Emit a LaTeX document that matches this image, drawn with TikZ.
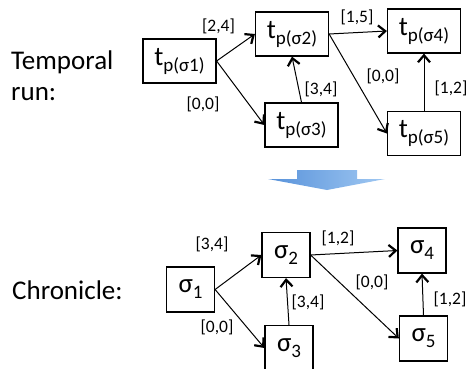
\documentclass[tikz,border=0pt]{standalone}
\usepackage{fontspec}
\setmainfont{Carlito}
\usetikzlibrary{arrows.meta}
\newcommand\tp[1]{t\raisebox{-6pt}{\fontsize{19}{19}\selectfont p(σ#1)}}
\newcommand\sg[1]{σ\raisebox{-6pt}{\fontsize{19}{19}\selectfont #1}}
\begin{document}
\begin{tikzpicture}[x=1pt,y=-1pt,
    tbox/.style={draw,line width=1.2pt,minimum width=73pt,minimum height=44pt,inner sep=0pt,font=\fontsize{27}{27}\selectfont},
    sbox/.style={draw,line width=1.2pt,minimum width=48pt,minimum height=45pt,inner sep=0pt,font=\fontsize{27}{27}\selectfont},
    lbl/.style={inner sep=0pt,font=\fontsize{17.5}{17.5}\selectfont},
    side/.style={anchor=base west,inner sep=0pt,font=\fontsize{27}{27}\selectfont},
    arr/.style={line width=1pt,-{Straight Barb[length=7pt,width=12pt,line width=2.2pt]}}]
  \useasboundingbox (0,0) rectangle (468,369);
  \node[side] (temporal) at (11,69) {Temporal};
  \node[side] (run) at (11,100) {run:};
  \node[tbox] (s1) at (179.5,61) {\tp{1}};
  \node[tbox] (s2) at (292,34) {\tp{2}};
  \node[tbox] (s3) at (301.5,125) {\tp{3}};
  \node[tbox] (s4) at (424,31) {\tp{4}};
  \node[tbox] (s5) at (424,133.5) {\tp{5}};
  \draw[arr] (s1.east) -- (s2.west);
  \draw[arr] (s1.east) -- (s3.west);
  \draw[arr] (s3.north) -- (s2.south);
  \draw[arr] (s2.east) -- (s4.west);
  \draw[arr] (s2.east) -- (s5.west);
  \draw[arr] (s5.north) -- (s4.south);
  \node[lbl] (s12) at (218.5,26) {[2,4]};
  \node[lbl] (s13) at (203,104) {[0,0]};
  \node[lbl] (s32) at (321,89) {[3,4]};
  \node[lbl] (s24) at (357,17) {[1,5]};
  \node[lbl] (s25) at (383,76) {[0,0]};
  \node[lbl] (s54) at (451,88) {[1,2]};
  \shade[left color={rgb,255:red,88;green,146;blue,218},right color={rgb,255:red,160;green,200;blue,242}]
    (297,170) -- (357,170) -- (357,179) -- (385,179) -- (327,190) -- (268,179) -- (297,179) -- cycle;
  \node[side] (chronicle) at (12,299) {Chronicle:};
  \node[sbox] (c1) at (190.5,289.5) {\sg{1}};
  \node[sbox] (c2) at (286,255) {\sg{2}};
  \node[sbox] (c3) at (289,348) {\sg{3}};
  \node[sbox] (c4) at (422,250.5) {\sg{4}};
  \node[sbox] (c5) at (423.5,338.5) {\sg{5}};
  \draw[arr] (c1.east) -- (c2.west);
  \draw[arr] (c1.east) -- (c3.west);
  \draw[arr] (c3.north) -- (c2.south);
  \draw[arr] (c2.east) -- (c4.west);
  \draw[arr] (c2.east) -- (c5.west);
  \draw[arr] (c5.north) -- (c4.south);
  \node[lbl] (c12) at (212,244) {[3,4]};
  \node[lbl] (c13) at (217,327) {[0,0]};
  \node[lbl] (c32) at (308,302) {[3,4]};
  \node[lbl] (c24) at (338,238) {[1,2]};
  \node[lbl] (c25) at (372,282) {[0,0]};
  \node[lbl] (c54) at (450,299) {[1,2]};
\end{tikzpicture}
\end{document}
